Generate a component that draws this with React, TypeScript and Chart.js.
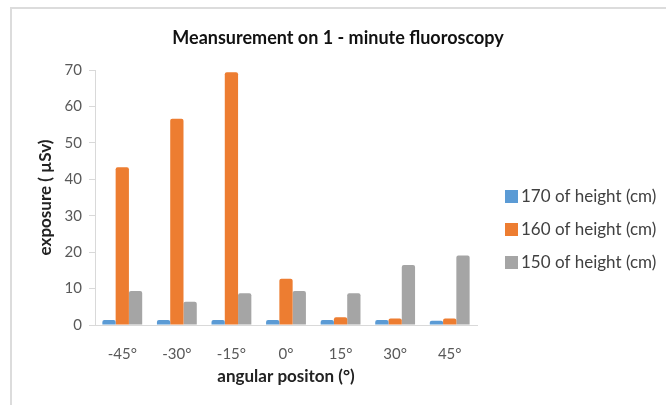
import React, { useEffect, useRef } from "react";
import { Chart, registerables } from "chart.js";

Chart.register(...registerables);

const categories = ["-45°", "-30°", "-15°", "0°", "15°", "30°", "45°"];
const seriesLabels = ["170 of height (cm)", "160 of height (cm)", "150 of height (cm)"];
const height170 = [1.4, 1.4, 1.4, 1.4, 1.4, 1.4, 1.2];
const height160 = [43.3, 56.6, 69.4, 12.7, 2.1, 1.8, 1.8];
const height150 = [9.3, 6.4, 8.7, 9.3, 8.7, 16.5, 19.1];
const yTicks = [0, 10, 20, 30, 40, 50, 60, 70];

const COLORS = ["#5B9BD5", "#ED7D31", "#A5A5A5"];
const FONT = "Lato, 'Open Sans', sans-serif";

const customLegend = {
  id: "customLegend",
  afterDraw(chart: any) {
    const ctx = chart.ctx;
    ctx.save();
    ctx.font = `17px ${FONT}`;
    ctx.textBaseline = "middle";
    ctx.textAlign = "left";
    const ys = [196, 229, 262];
    chart.data.datasets.forEach((ds: any, i: number) => {
      ctx.fillStyle = ds.backgroundColor;
      ctx.fillRect(505, ys[i] - 6, 13, 13);
      ctx.fillStyle = "#404040";
      ctx.fillText(ds.label, 521, ys[i] + 1);
    });
    ctx.restore();
  },
};

export default function App() {
  const ref = useRef<HTMLCanvasElement | null>(null);
  useEffect(() => {
    document.body.style.margin = "0";
    const chart = new Chart(ref.current!, {
      type: "bar",
      data: {
        labels: categories,
        datasets: [height170, height160, height150].map((d, i) => ({
          label: seriesLabels[i],
          data: d,
          backgroundColor: COLORS[i],
          borderRadius: 2,
          borderSkipped: "bottom",
          barPercentage: 1,
          categoryPercentage: 0.73,
        })),
      },
      options: {
        responsive: false,
        animation: false,
        devicePixelRatio: 1,
        layout: { padding: { left: 35, right: 25, top: 0, bottom: 18 } },
        plugins: {
          legend: { display: false },
          tooltip: { enabled: false },
          title: {
            display: true,
            text: "Meansurement on 1 - minute fluoroscopy",
            color: "#111",
            font: { family: FONT, size: 18, weight: "bold" },
            padding: { top: 27, bottom: 21.4 },
          },
        },
        scales: {
          x: {
            afterFit: (s: any) => {
              s.height = 62;
            },
            grid: { display: false, drawTicks: false },
            border: { color: "#d9d9d9", width: 1 },
            ticks: { color: "#595959", font: { family: FONT, size: 15 }, padding: 20 },
            title: {
              display: true,
              text: "angular positon (°)",
              color: "#222",
              font: { family: FONT, size: 17, weight: "bold" },
              padding: { top: 0, bottom: 0 },
            },
          },
          y: {
            min: 0,
            max: 70,
            afterFit: (s: any) => {
              s.width = 60;
            },
            afterBuildTicks: (s: any) => {
              s.ticks = yTicks.map((v) => ({ value: v }));
            },
            grid: { drawOnChartArea: false, tickLength: 6, color: "#d9d9d9" },
            border: { color: "#d9d9d9", width: 1 },
            ticks: { color: "#595959", font: { family: FONT, size: 15 }, padding: 7 },
            title: {
              display: true,
              text: "exposure ( µSv)",
              color: "#222",
              font: { family: FONT, size: 17, weight: "bold" },
              padding: { top: 0, bottom: 0 },
            },
          },
          yRight: {
            position: "right",
            display: true,
            afterFit: (s: any) => {
              s.width = 164;
            },
            grid: { display: false, drawTicks: false },
            border: { display: false },
            ticks: { display: false },
          },
        },
      },
      plugins: [customLegend],
    });
    return () => chart.destroy();
  }, []);
  return (
    <div style={{ position: "relative", width: 666, height: 405, background: "#fff" }}>
      <canvas ref={ref} width={666} height={405} />
      <div
        style={{
          position: "absolute",
          left: 10,
          top: 7,
          right: 0,
          bottom: 0,
          borderLeft: "2px solid #dcdcdc",
          borderTop: "2px solid #dcdcdc",
          pointerEvents: "none",
        }}
      />
    </div>
  );
}
